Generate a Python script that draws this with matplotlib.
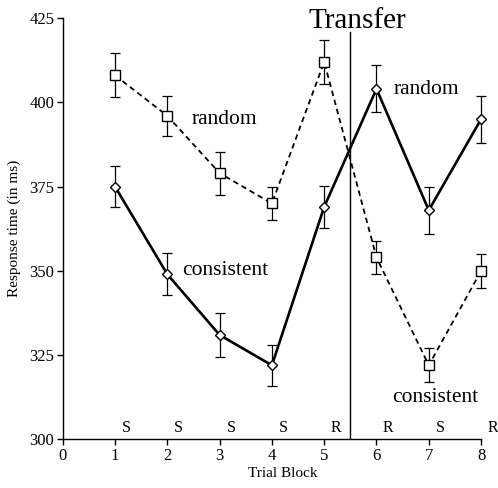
import matplotlib.pyplot as plt

plt.rcParams['font.family'] = ['Liberation Serif', 'DejaVu Serif']

blocks = [1, 2, 3, 4, 5, 6, 7, 8]
random_rt = [408, 396, 379, 370, 412, 354, 322, 350]
random_err = [6.5, 6.0, 6.4, 5.0, 6.5, 5.0, 5.0, 5.0]
consistent_rt = [375, 349, 331, 322, 369, 404, 368, 395]
consistent_err = [6.0, 6.2, 6.4, 6.0, 6.3, 7.0, 7.0, 7.0]
block_types = ['S', 'S', 'S', 'S', 'R', 'R', 'S', 'R']

fig = plt.figure(figsize=(4.98, 4.88), dpi=100)
ax = fig.add_axes([0.126, 0.0994, 0.840, 0.8636])

# error bars first, markers on top
for rt, err in [(random_rt, random_err), (consistent_rt, consistent_err)]:
    eb = ax.errorbar(blocks, rt, yerr=err, fmt='none', ecolor='black',
                     elinewidth=0.9, capsize=3.5, capthick=0.9, zorder=2)
    for art in eb.lines[1] + eb.lines[2]:
        art.set_clip_on(False)

ax.plot(blocks, random_rt, color='black', linestyle=(0, (3, 2.2)), linewidth=1.3,
        marker='s', markersize=7.5, markerfacecolor='white', markeredgecolor='black',
        markeredgewidth=1.0, zorder=3, clip_on=False)
ax.plot(blocks, consistent_rt, color='black', linestyle='-', linewidth=1.9,
        marker='D', markersize=5.5, markerfacecolor='white', markeredgecolor='black',
        markeredgewidth=1.0, zorder=4, clip_on=False)

# transfer line
ax.plot([5.5, 5.5], [300, 421], color='black', linewidth=1.0, zorder=1)
ax.text(5.63, 422, 'Transfer', fontsize=21, ha='center', va='baseline', clip_on=False)

# series labels
ax.text(2.47, 394.8, 'random', fontsize=15.5, ha='left', va='center')
ax.text(2.28, 350, 'consistent', fontsize=15.5, ha='left', va='center')
ax.text(6.33, 403.7, 'random', fontsize=15.5, ha='left', va='center')
ax.text(6.3, 312.4, 'consistent', fontsize=15.5, ha='left', va='center')

# block type letters
for b, t in zip(blocks, block_types):
    ax.text(b + 0.22, 303.3, t, fontsize=11.5, ha='center', va='center', clip_on=False)

ax.set_xlim(0, 8)
ax.set_ylim(300, 425)
ax.set_xticks(range(0, 9))
ax.set_yticks([300, 325, 350, 375, 400, 425])
ax.tick_params(direction='out', length=4, width=1, labelsize=12, pad=2)
for s in ['top', 'right']:
    ax.spines[s].set_visible(False)
ax.spines['left'].set_linewidth(1.0)
ax.spines['bottom'].set_linewidth(1.0)

ax.set_xlabel('Trial Block', fontsize=11, labelpad=2)
ax.xaxis.set_label_coords(0.527, -0.065)
ax.set_ylabel('Response time (in ms)', fontsize=11, labelpad=6)

fig.savefig('out.png', dpi=100)
